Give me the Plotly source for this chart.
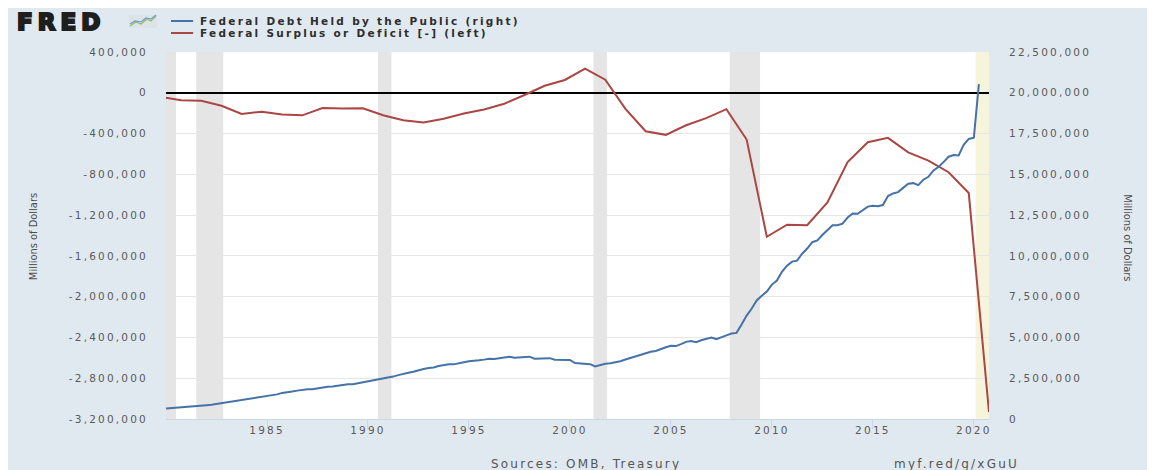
import plotly.graph_objects as go
import pandas as pd

# ---------------- data ----------------
# Federal Surplus or Deficit [-], fiscal years (millions of dollars), FRED dates FY at Oct 1
deficit_dates = [f"{y}-10-01" for y in range(1979, 2021)]
deficit = [
    -40726, -73830, -78968, -127977, -207802, -185367, -212308, -221227,
    -149730, -155178, -152639, -221036, -269238, -290321, -255051, -203186,
    -163952, -107431, -21884, 69270, 125610, 236241, 128236, -157758,
    -377585, -412727, -318346, -248181, -160701, -458553, -1412688, -1294373,
    -1299599, -1076573, -679775, -484602, -441960, -584651, -665446, -779137,
    -983594, -3131917,
]

# Federal Debt Held by the Public, quarterly (millions of dollars)
debt_dates = pd.date_range("1980-01-01", "2020-04-01", freq="QS")
debt = [
    645000, 665000, 710000, 735000,
    755000, 765000, 790000, 830000,
    850000, 880000, 925000, 990000,
    1050000, 1100000, 1140000, 1180000,
    1220000, 1260000, 1310000, 1370000,
    1420000, 1460000, 1510000, 1600000,
    1630000, 1680000, 1740000, 1800000,
    1820000, 1830000, 1890000, 1950000,
    1980000, 1990000, 2050000, 2100000,
    2130000, 2130000, 2190000, 2250000,
    2290000, 2340000, 2410000, 2500000,
    2540000, 2600000, 2690000, 2780000,
    2830000, 2900000, 3000000, 3070000,
    3120000, 3160000, 3250000, 3310000,
    3350000, 3350000, 3430000, 3480000,
    3540000, 3550000, 3600000, 3640000,
    3690000, 3680000, 3730000, 3780000,
    3820000, 3750000, 3770000, 3810000,
    3820000, 3700000, 3720000, 3730000,
    3730000, 3630000, 3630000, 3660000,
    3620000, 3430000, 3410000, 3380000,
    3360000, 3220000, 3320000, 3390000,
    3420000, 3470000, 3540000, 3650000,
    3750000, 3820000, 3910000, 4020000,
    4120000, 4170000, 4300000, 4400000,
    4490000, 4470000, 4590000, 4730000,
    4780000, 4710000, 4830000, 4930000,
    4990000, 4900000, 5030000, 5130000,
    5240000, 5280000, 5800000, 6340000,
    6770000, 7270000, 7550000, 7810000,
    8240000, 8490000, 9020000, 9400000,
    9650000, 9710000, 10130000, 10450000,
    10840000, 10950000, 11280000, 11580000,
    11880000, 11880000, 11980000, 12350000,
    12600000, 12580000, 12780000, 13020000,
    13080000, 13050000, 13120000, 13670000,
    13830000, 13910000, 14170000, 14430000,
    14460000, 14340000, 14670000, 14850000,
    15240000, 15450000, 15750000, 16080000,
    16180000, 16160000, 16810000, 17170000,
    17250000, 20530000,
]

# recessions (gray) and the latest one (pale yellow)
recession_start = ["1980-01-01", "1981-07-01", "1990-07-01", "2001-03-01", "2007-12-01"]
recession_end = ["1980-07-01", "1982-11-01", "1991-03-01", "2001-11-01", "2009-06-01"]
latest_recession = ("2020-02-01", "2020-10-01")

left_ticks = [400000, 0, -400000, -800000, -1200000, -1600000, -2000000,
              -2400000, -2800000, -3200000]
right_ticks = [22500000, 20000000, 17500000, 15000000, 12500000, 10000000,
               7500000, 5000000, 2500000, 0]
x_tick_years = [1985, 1990, 1995, 2000, 2005, 2010, 2015, 2020]

series_names = ["Federal Debt Held by the Public (right)",
                "Federal Surplus or Deficit [-] (left)"]

# ---------------- styling ----------------
OFF = 8                      # page body margin of the html page
W, H = 1155 - OFF, 470 - OFF
PL, PR, PT, PB = 166, 989, 52, 418.7   # plot area in page pixels
BLUE = "#4572a7"
RED = "#aa4643"
BG = "#e1e9f0"
TICKC = "#595959"
FONT = "DejaVu Sans, Verdana, sans-serif"
NARROW = "Liberation Sans Narrow, Arial Narrow, DejaVu Sans Condensed, sans-serif"


def px(x):
    return (x - PL) / (PR - PL)


def py(y):
    return (PB - y) / (PB - PT)


def sp(t, ls=2.2):
    return f'<span style="letter-spacing:{ls}px">{t}</span>'


def path(points):
    return "M " + " L ".join(f"{px(a)},{py(b)}" for a, b in points)


fig = go.Figure()
fig.add_trace(go.Scatter(x=debt_dates, y=debt, mode="lines", yaxis="y2",
                         line=dict(color=BLUE, width=2), name=series_names[0],
                         showlegend=False))
fig.add_trace(go.Scatter(x=deficit_dates, y=deficit, mode="lines", yaxis="y",
                         line=dict(color=RED, width=2), name=series_names[1],
                         showlegend=False))

shapes = []
for s, e in zip(recession_start, recession_end):
    shapes.append(dict(type="rect", xref="x", yref="paper", x0=s, x1=e, y0=0, y1=1,
                       fillcolor="#e5e5e5", line=dict(width=0), layer="below"))
shapes.append(dict(type="rect", xref="x", yref="paper", x0=latest_recession[0],
                   x1=latest_recession[1], y0=0, y1=1, fillcolor="#f6f5dc",
                   line=dict(width=0), layer="below"))
# legend swatches
shapes.append(dict(type="line", xref="paper", yref="paper", x0=px(171), x1=px(193),
                   y0=py(21), y1=py(21), line=dict(color=BLUE, width=2)))
shapes.append(dict(type="line", xref="paper", yref="paper", x0=px(171), x1=px(193),
                   y0=py(33), y1=py(33), line=dict(color=RED, width=2)))
# FRED logo icon
shapes.append(dict(type="rect", xref="paper", yref="paper", x0=px(129), x1=px(157),
                   y0=py(28), y1=py(15), fillcolor="#dde3e6", line=dict(width=0)))
shapes.append(dict(type="path", xref="paper", yref="paper",
                   path=path([(130, 26), (136, 22), (141, 24), (147, 19), (151, 21), (156, 16)]),
                   line=dict(color="#8fbf6a", width=1.2)))
shapes.append(dict(type="path", xref="paper", yref="paper",
                   path=path([(130, 24), (135, 21), (141, 22), (146, 18), (151, 19), (156, 15)]),
                   line=dict(color="#6f9bd1", width=1.2)))

annotations = [
    dict(text='<b><span style="letter-spacing:5px;stroke:#1e1e1e;stroke-width:2.2px">FRED</span></b>',
         xref="paper", yref="paper", x=px(15), y=py(22), xanchor="left", yanchor="middle",
         showarrow=False, font=dict(family=FONT, size=23, color="#1e1e1e")),
    dict(text="<b>" + sp(series_names[0], 2.3) + "</b>", xref="paper", yref="paper",
         x=px(198), y=py(21), xanchor="left", yanchor="middle", showarrow=False,
         font=dict(family=FONT, size=10.5, color="#2e2e2e")),
    dict(text="<b>" + sp(series_names[1], 2.3) + "</b>", xref="paper", yref="paper",
         x=px(198), y=py(33.5), xanchor="left", yanchor="middle", showarrow=False,
         font=dict(family=FONT, size=10.5, color="#2e2e2e")),
    dict(text="Millions of Dollars", xref="paper", yref="paper", x=px(33), y=py(237),
         xanchor="center", yanchor="middle", textangle=-90, showarrow=False,
         font=dict(family=NARROW, size=11, color="#4d4d4d")),
    dict(text="Millions of Dollars", xref="paper", yref="paper", x=px(1128), y=py(237),
         xanchor="center", yanchor="middle", textangle=90, showarrow=False,
         font=dict(family=NARROW, size=11, color="#4d4d4d")),
    dict(text=sp("Sources: OMB, Treasury", 2.2), xref="paper", yref="paper",
         x=px(489), y=py(463.5), xanchor="left", yanchor="middle", showarrow=False,
         font=dict(family=FONT, size=12, color="#555555")),
    dict(text=sp("myf.red/g/xGuU", 2.2), xref="paper", yref="paper",
         x=px(892), y=py(463.5), xanchor="left", yanchor="middle", showarrow=False,
         font=dict(family=FONT, size=12, color="#555555")),
]

fig.update_layout(
    width=W, height=H,
    margin=dict(l=PL - OFF, r=W - (PR - OFF), t=PT - OFF, b=H - (PB - OFF), pad=0),
    paper_bgcolor=BG, plot_bgcolor="white",
    showlegend=False,
    shapes=shapes, annotations=annotations,
    xaxis=dict(
        type="date", range=["1980-01-01", "2020-10-01"],
        tickvals=[f"{y}-01-01" for y in x_tick_years],
        ticktext=[sp(str(y)) for y in x_tick_years],
        showgrid=False, showline=True, linecolor="#ccd6eb", linewidth=1,
        ticks="outside", ticklen=9, tickcolor="#ccd6eb", tickwidth=1,
        ticklabelstandoff=-8,
        tickfont=dict(family=FONT, size=10.5, color=TICKC),
        zeroline=False,
    ),
    yaxis=dict(
        range=[-3200000, 400000],
        tickvals=left_ticks, ticktext=[sp(f"{v:,}") for v in left_ticks],
        showgrid=True, gridcolor="#e6e6e6", gridwidth=1,
        zeroline=True, zerolinecolor="#000000", zerolinewidth=2,
        ticks="", ticklabelstandoff=17,
        tickfont=dict(family=FONT, size=10.5, color=TICKC),
        showline=False,
    ),
    yaxis2=dict(
        range=[0, 22500000], overlaying="y", side="right",
        tickvals=right_ticks, ticktext=[sp(f"{v:,}") for v in right_ticks],
        showgrid=False, zeroline=False, ticks="", ticklabelstandoff=19,
        tickfont=dict(family=FONT, size=10.5, color=TICKC),
        showline=False,
    ),
)

fig.write_html("out.html")
